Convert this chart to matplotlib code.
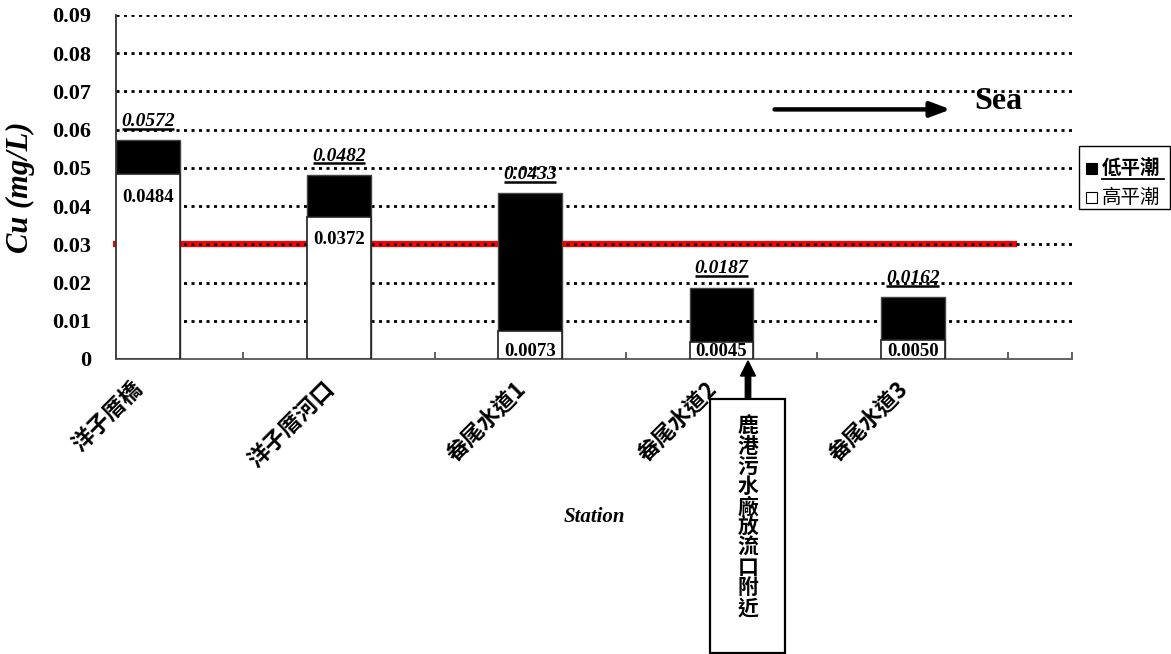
import matplotlib
matplotlib.use("Agg")
import matplotlib.pyplot as plt
from matplotlib.patches import Rectangle, FancyArrow

stations = ["洋子厝橋", "洋子厝河口", "畚尾水道1", "畚尾水道2", "畚尾水道3"]
low_tide = [0.0572, 0.0482, 0.0433, 0.0187, 0.0162]
high_tide = [0.0484, 0.0372, 0.0073, 0.0045, 0.0050]
limit = 0.03
grid_levels = [0.01, 0.02, 0.03, 0.04, 0.05, 0.06, 0.07, 0.08, 0.09]

W, H = 1171, 654
SERIF = "Liberation Serif"
CJK = ["Noto Sans CJK TC", "DejaVu Sans"]

def fx(px):
    return px / W

def fy(py):
    return 1 - py / H

fig = plt.figure(figsize=(W / 100, H / 100), dpi=100)
ax = fig.add_axes([fx(116), fy(359), fx(1072) - fx(116), fy(15) - fy(359)])
ax.set_xlim(0, 5)
ax.set_ylim(0, 0.09)

n = len(stations)
xs = list(range(n))
bw = 1 / 3

# red limit line, then dotted grid on top of it
ax.plot([-0.015, 4.71], [limit, limit], color="#ff0000", lw=4.5, zorder=1,
        solid_capstyle="butt", clip_on=False)
ax.hlines(grid_levels, 0, 5, colors="black", lw=2.0,
          linestyles=(0, (1.1, 1.6)), zorder=1.5)

ax.bar(xs, low_tide, width=bw, align="edge", color="black",
       edgecolor="#444444", lw=1, zorder=2)
ax.bar(xs, high_tide, width=bw, align="edge", color="white",
       edgecolor="#222222", lw=1.2, zorder=3)

for x, lo, hi in zip(xs, low_tide, high_tide):
    cx = x + bw / 2
    ax.text(cx, lo + 0.0037, f"{lo:.4f}", ha="center", va="baseline",
            family=SERIF, weight="bold", style="italic", fontsize=14, zorder=4)
    ax.plot([cx - 0.137, cx + 0.137], [lo + 0.003, lo + 0.003], color="black",
            lw=1.8, zorder=4, solid_capstyle="butt")
    ty = max(hi - 0.0072, 0.0007)
    ax.text(cx, ty, f"{hi:.4f}", ha="center", va="baseline",
            family=SERIF, weight="bold", fontsize=13.5, zorder=4)

# axes styling
for s in ["top", "right"]:
    ax.spines[s].set_visible(False)
ax.spines["left"].set_color("#333333")
ax.spines["left"].set_linewidth(1.3)
ax.spines["bottom"].set_color("#555555")
ax.spines["bottom"].set_linewidth(1.3)

ax.set_yticks([0] + grid_levels)
ax.set_yticklabels(["0"] + [f"{v:.2f}" for v in grid_levels],
                   family=SERIF, weight="bold", fontsize=16)
ax.tick_params(axis="y", length=0, pad=18)

ax.set_xticks([x + 2 / 3 for x in xs] + [5])
ax.set_xticklabels([])
ax.tick_params(axis="x", which="major", direction="in", length=5,
               width=1.3, color="#555555")
ax.set_xticks([x + bw / 2 - 0.085 for x in xs], minor=True)
ax.set_xticklabels(stations, minor=True, rotation=45, ha="right", va="top",
                   rotation_mode="anchor", family=CJK, weight="bold", fontsize=16)
ax.tick_params(axis="x", which="minor", length=0, pad=13)

ax.set_ylabel("Cu (mg/L)", family=SERIF, weight="bold", style="italic",
              fontsize=22, labelpad=12)
ax.text(0.5, -0.458, "Station", transform=ax.transAxes, ha="center", va="center",
        family=SERIF, weight="bold", style="italic", fontsize=15)

# Sea arrow
ax.annotate("", xy=(4.38, 0.0653), xytext=(3.43, 0.0653),
            arrowprops=dict(arrowstyle="-|>,head_length=1.2,head_width=0.45",
                            lw=3.2, color="black"), annotation_clip=False)
ax.text(4.49, 0.0655, "Sea", family=SERIF, weight="bold", fontsize=23,
        ha="left", va="baseline")

# legend box
fig.patches.append(Rectangle((fx(1079), fy(209)), fx(1170) - fx(1079),
                             fy(146) - fy(209), transform=fig.transFigure,
                             fill=False, edgecolor="black", lw=1))
fig.patches.append(Rectangle((fx(1086), fy(174)), fx(11), fy(0) - fy(11),
                             transform=fig.transFigure, facecolor="black",
                             edgecolor="black", lw=0.8))
fig.patches.append(Rectangle((fx(1086), fy(203)), fx(11), fy(0) - fy(11),
                             transform=fig.transFigure, facecolor="white",
                             edgecolor="black", lw=0.8))
fig.text(fx(1102), fy(168), "低平潮", family=CJK, weight="bold", fontsize=14,
         ha="left", va="center")
fig.add_artist(plt.Line2D([fx(1102), fx(1164)], [fy(179), fy(179)],
                          transform=fig.transFigure, color="black", lw=1.3))
fig.text(fx(1102), fy(197), "高平潮", family=CJK, fontsize=14,
         ha="left", va="center")

# outfall annotation box with arrow pointing to the axis
fig.patches.append(Rectangle((fx(710), fy(653)), fx(785) - fx(710),
                             fy(399) - fy(653), transform=fig.transFigure,
                             fill=False, edgecolor="black", lw=1.6))
fig.text(fx(748), fy(517), "\n".join("鹿港污水廠放流口附近"), family=CJK,
         weight="bold", fontsize=15, ha="center", va="center", linespacing=0.95)
fig.add_artist(FancyArrow(fx(748), fy(399), 0, fy(361) - fy(399),
                          width=fy(0) - fy(3), head_width=fx(15),
                          head_length=fy(0) - fy(15), length_includes_head=True,
                          transform=fig.transFigure, color="black"))

fig.savefig("out.png", dpi=100)
